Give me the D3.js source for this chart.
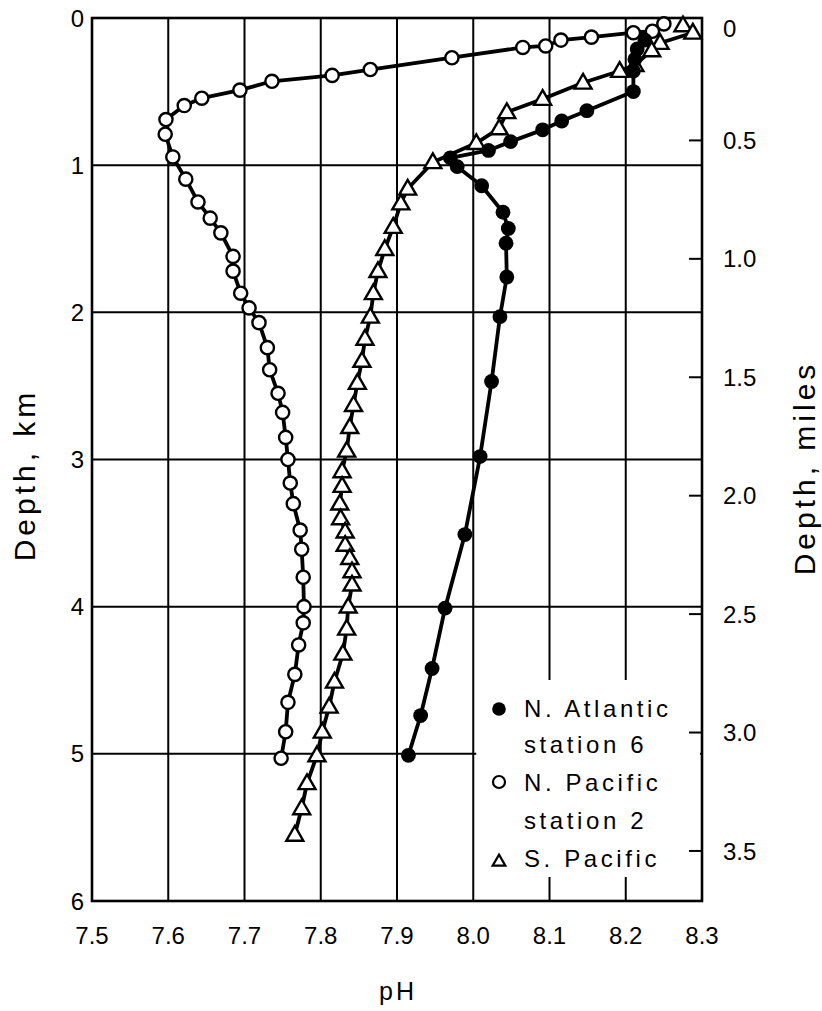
<!DOCTYPE html>
<html>
<head>
<meta charset="utf-8">
<script src="https://cdn.jsdelivr.net/npm/d3@7"></script>
<style>
  html, body { margin: 0; padding: 0; background: #fff; }
  svg { display: block; }
  text { font-family: "Liberation Sans", Arial, sans-serif; fill: #000; }
</style>
</head>
<body>
<svg id="chart" width="822" height="1011"></svg>
<script>
// pH profiles with depth (depth in km, pH)
const northAtlantic = [
  [0.15, 8.225], [0.21, 8.215], [0.28, 8.212], [0.36, 8.21], [0.50, 8.21],
  [0.63, 8.149], [0.70, 8.116], [0.76, 8.091], [0.84, 8.049], [0.90, 8.02],
  [0.95, 7.970], [1.01, 7.979], [1.14, 8.011], [1.32, 8.039], [1.43, 8.046],
  [1.53, 8.043], [1.76, 8.044], [2.03, 8.035], [2.47, 8.024], [2.98, 8.009],
  [3.51, 7.989], [4.01, 7.963], [4.42, 7.946], [4.74, 7.931], [5.01, 7.915]
];
const northPacific = [
  [0.04, 8.25], [0.09, 8.235], [0.10, 8.21], [0.13, 8.155], [0.15, 8.115],
  [0.19, 8.095], [0.20, 8.065], [0.27, 7.972], [0.35, 7.865], [0.39, 7.815],
  [0.43, 7.736], [0.49, 7.694], [0.545, 7.644], [0.595, 7.621], [0.69, 7.597],
  [0.79, 7.596], [0.944, 7.606], [1.095, 7.623], [1.25, 7.639], [1.36, 7.655],
  [1.46, 7.669], [1.62, 7.685], [1.72, 7.685], [1.87, 7.695], [1.97, 7.706],
  [2.07, 7.719], [2.24, 7.73], [2.39, 7.733], [2.55, 7.744], [2.68, 7.75],
  [2.85, 7.754], [3.0, 7.757], [3.16, 7.76], [3.30, 7.764], [3.48, 7.773],
  [3.61, 7.775], [3.80, 7.777], [4.0, 7.778], [4.11, 7.777], [4.26, 7.771],
  [4.46, 7.766], [4.65, 7.757], [4.85, 7.754], [5.03, 7.748]
];
const southPacific = [
  [0.05, 8.275], [0.10, 8.288], [0.17, 8.245], [0.22, 8.234], [0.32, 8.212],
  [0.36, 8.192], [0.44, 8.144], [0.55, 8.091], [0.64, 8.044], [0.75, 8.034],
  [0.85, 8.004], [0.98, 7.947], [1.16, 7.914], [1.26, 7.905], [1.42, 7.895],
  [1.57, 7.884], [1.72, 7.875], [1.87, 7.869], [2.03, 7.865], [2.18, 7.858],
  [2.33, 7.854], [2.48, 7.848], [2.63, 7.843], [2.78, 7.838], [2.94, 7.834],
  [3.08, 7.828], [3.18, 7.828], [3.30, 7.825], [3.40, 7.826], [3.49, 7.832],
  [3.58, 7.832], [3.67, 7.838], [3.76, 7.841], [3.85, 7.841], [4.0, 7.836],
  [4.15, 7.834], [4.32, 7.829], [4.51, 7.818], [4.68, 7.811], [4.85, 7.802],
  [5.01, 7.795], [5.20, 7.782], [5.37, 7.775], [5.55, 7.766]
];

const phTicks = [7.5, 7.6, 7.7, 7.8, 7.9, 8.0, 8.1, 8.2, 8.3];
const kmTicks = [0, 1, 2, 3, 4, 5, 6];
const mileTicks = [0, 0.5, 1.0, 1.5, 2.0, 2.5, 3.0, 3.5];
const legendLabels = [
  ["N. Atlantic", "station 6"],
  ["N. Pacific", "station 2"],
  ["S. Pacific"]
];

const KM_PER_MILE = 1.609344;

const svg = d3.select("#chart");
const plotL = 92, plotR = 702, plotT = 18, plotB = 901;

const x = d3.scaleLinear().domain([7.5, 8.3]).range([plotL, plotR]);
const y = d3.scaleLinear().domain([0, 6]).range([plotT, plotB]);
const yMiles = d3.scaleLinear().domain([0, 6 / KM_PER_MILE]).range([plotT, plotB]);

// grid
const grid = svg.append("g").attr("stroke", "#000").attr("stroke-width", 2);
grid.selectAll("line.v").data(phTicks.slice(1, -1)).join("line")
  .attr("class", "v")
  .attr("x1", d => x(d)).attr("x2", d => x(d))
  .attr("y1", plotT).attr("y2", plotB);
grid.selectAll("line.h").data(kmTicks.slice(1, -1)).join("line")
  .attr("class", "h")
  .attr("x1", plotL).attr("x2", plotR)
  .attr("y1", d => y(d)).attr("y2", d => y(d));

// blank panel behind the legend
svg.append("rect")
  .attr("x", x(8.0) + 3).attr("y", 680)
  .attr("width", x(8.3) - x(8.0) - 5).attr("height", 197)
  .attr("fill", "#fff");

// frame
svg.append("rect")
  .attr("x", plotL).attr("y", plotT)
  .attr("width", plotR - plotL).attr("height", plotB - plotT)
  .attr("fill", "none").attr("stroke", "#000").attr("stroke-width", 2.6);

// left axis labels (km)
svg.append("g").selectAll("text").data(kmTicks).join("text")
  .attr("x", plotL - 8).attr("y", d => y(d)).attr("dy", "0.36em")
  .attr("text-anchor", "end").attr("font-size", 24)
  .text(d => d);

// bottom axis labels (pH)
svg.append("g").selectAll("text").data(phTicks).join("text")
  .attr("x", d => x(d)).attr("y", plotB + 34)
  .attr("dy", "0.36em").attr("text-anchor", "middle").attr("font-size", 24)
  .text(d => d.toFixed(1));

// right axis (miles) with inward ticks
const rAxis = svg.append("g");
rAxis.selectAll("line").data(mileTicks.slice(1)).join("line")
  .attr("x1", plotR - 13).attr("x2", plotR)
  .attr("y1", d => yMiles(d) + 4).attr("y2", d => yMiles(d) + 4)
  .attr("stroke", "#000").attr("stroke-width", 2);
rAxis.selectAll("text").data(mileTicks).join("text")
  .attr("x", plotR + 21).attr("y", d => yMiles(d) + (d === 0 ? 10 : 4))
  .attr("dy", "0.36em").attr("font-size", 24)
  .text(d => d === 0 ? "0" : d.toFixed(1));

// axis titles
svg.append("text")
  .attr("transform", "translate(35,475) rotate(-90)")
  .attr("text-anchor", "middle").attr("font-size", 30).attr("letter-spacing", 4)
  .text("Depth, km");
svg.append("text")
  .attr("transform", "translate(815,468) rotate(-90)")
  .attr("text-anchor", "middle").attr("font-size", 30).attr("letter-spacing", 4)
  .text("Depth, miles");
svg.append("text")
  .attr("x", 398).attr("y", 1000)
  .attr("text-anchor", "middle").attr("font-size", 25).attr("letter-spacing", 3)
  .text("pH");

// profile lines
const line = d3.line().x(d => x(d[1])).y(d => y(d[0]));
[northPacific, southPacific, northAtlantic].forEach(s => {
  svg.append("path").datum(s).attr("d", line)
    .attr("fill", "none").attr("stroke", "#000")
    .attr("stroke-width", 3.8).attr("stroke-linejoin", "round");
});

// markers
const tri = d3.symbol().type(d3.symbolTriangle).size(125);
svg.append("g").selectAll("path").data(southPacific).join("path")
  .attr("d", tri)
  .attr("transform", d => `translate(${x(d[1])},${y(d[0]) + 1})`)
  .attr("fill", "#fff").attr("stroke", "#000").attr("stroke-width", 2.4);
svg.append("g").selectAll("circle").data(northPacific).join("circle")
  .attr("cx", d => x(d[1])).attr("cy", d => y(d[0])).attr("r", 6.6)
  .attr("fill", "#fff").attr("stroke", "#000").attr("stroke-width", 2.4);
svg.append("g").selectAll("circle").data(northAtlantic).join("circle")
  .attr("cx", d => x(d[1])).attr("cy", d => y(d[0])).attr("r", 7.4)
  .attr("fill", "#000");

// legend
const legend = svg.append("g");
const lx = 499, textX = 524, baselines = [[717, 753], [791, 829], [867]];
legend.append("circle").attr("cx", lx).attr("cy", 709).attr("r", 6.8).attr("fill", "#000");
legend.append("circle").attr("cx", lx).attr("cy", 782).attr("r", 6)
  .attr("fill", "#fff").attr("stroke", "#000").attr("stroke-width", 2.2);
legend.append("path").attr("d", d3.symbol().type(d3.symbolTriangle).size(70))
  .attr("transform", `translate(${lx},862)`)
  .attr("fill", "#fff").attr("stroke", "#000").attr("stroke-width", 2.2);
legendLabels.forEach((lines, i) => {
  lines.forEach((t, j) => {
    legend.append("text").attr("x", textX).attr("y", baselines[i][j])
      .attr("font-size", 24).attr("letter-spacing", 3.6).text(t);
  });
});
</script>
</body>
</html>
